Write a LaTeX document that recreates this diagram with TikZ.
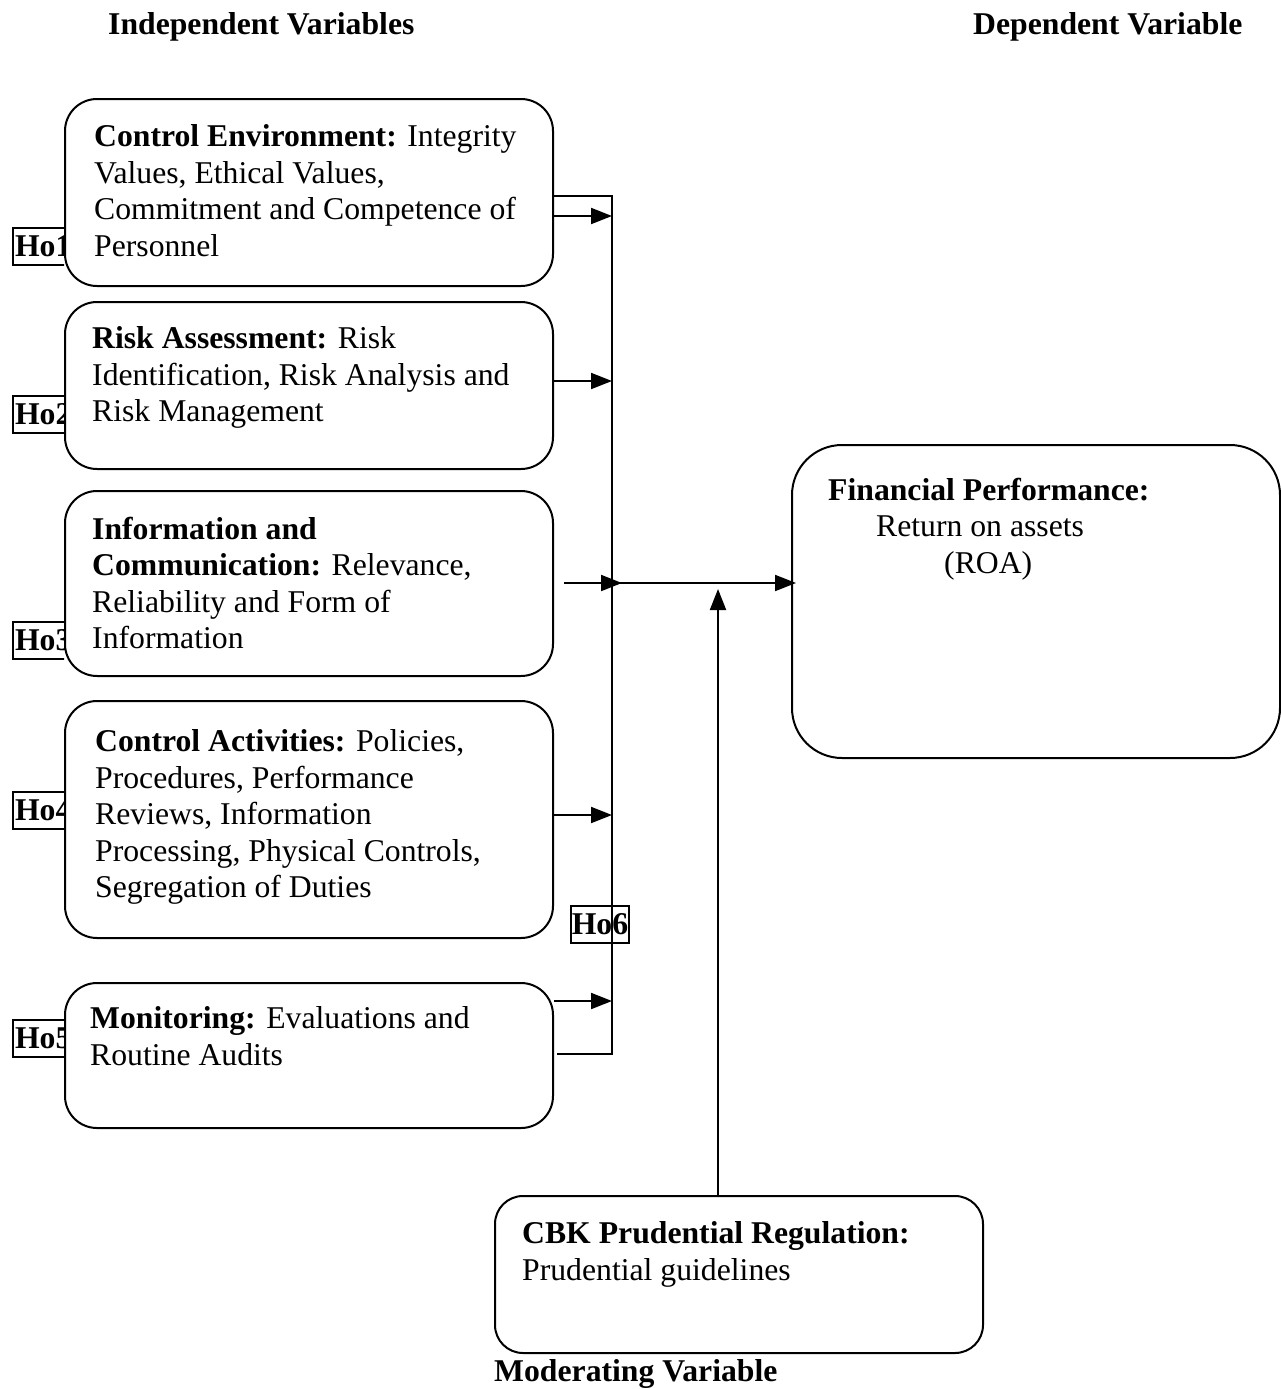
\documentclass[tikz,border=0pt]{standalone}
\usepackage{fontspec}
\setmainfont{Liberation Serif}
\usetikzlibrary{arrows.meta}
\begin{document}
\begin{tikzpicture}[x=1pt,y=-1pt,
  box/.style={draw, line width=2pt, rounded corners=32pt, fill=white, inner sep=0pt, anchor=north west},
  txt/.style={anchor=north west, inner sep=0pt, align=left, font=\fontsize{31.7}{36.5}\selectfont},
  ttl/.style={anchor=base west, inner sep=0pt, font=\fontsize{31.7}{36.5}\selectfont\bfseries},
  holab/.style={draw, line width=2pt, inner xsep=2pt, inner ysep=0pt, minimum height=37pt, font=\fontsize{31.7}{36}\selectfont\bfseries, anchor=west},
  ln/.style={line width=2pt},
  arr/.style={line width=2pt, -{Triangle[length=21pt,width=16pt]}},
]
\useasboundingbox (0,0) rectangle (1281,1389);

% titles
\node[ttl] (tind) at (108,35) {Independent Variables};
\node[ttl] (tdep) at (973,35) {Dependent Variable};
\node[ttl] (tmod) at (494,1381) {Moderating Variable};

% hypothesis labels (clipped by the boxes)
\begin{scope}
\clip (0,0) rectangle (64,1389);
\node[holab] (h1) at (12,246) {Ho1};
\node[holab] (h2) at (12,414) {Ho2};
\node[holab] (h3) at (12,640) {Ho3};
\node[holab] (h4) at (12,810) {Ho4};
\node[holab] (h5) at (12,1038) {Ho5};
\end{scope}

% independent variable boxes
\node[box, minimum width=488pt, minimum height=187pt] (b1) at (64,98) {};
\node[box, minimum width=488pt, minimum height=167pt] (b2) at (64,301) {};
\node[box, minimum width=488pt, minimum height=185pt] (b3) at (64,490) {};
\node[box, minimum width=488pt, minimum height=237pt] (b4) at (64,700) {};
\node[box, minimum width=488pt, minimum height=145pt] (b5) at (64,982) {};

\node[txt] (t1) at (94,124.5) {\textbf{Control Environment:} Integrity\\Values, Ethical Values,\\Commitment and Competence of\\Personnel};
\node[txt] (t2) at (92,326.5) {\textbf{Risk Assessment:} Risk\\Identification, Risk Analysis and\\Risk Management};
\node[txt] (t3) at (92,516.5) {\textbf{Information and}\\\textbf{Communication:} Relevance,\\Reliability and Form of\\Information};
\node[txt] (t4) at (95,729.5) {\textbf{Control Activities:} Policies,\\Procedures, Performance\\Reviews, Information\\Processing, Physical Controls,\\Segregation of Duties};
\node[txt] (t5) at (90,1006.5) {\textbf{Monitoring:} Evaluations and\\Routine Audits};

% dependent variable box
\node[box, rounded corners=50pt, minimum width=488pt, minimum height=313pt] (fp) at (791,444) {};
\node[txt] (tfp) at (828,477.5) {\textbf{Financial Performance:}\\\hspace*{48pt}Return on assets\\\hspace*{116pt}(ROA)};

% moderating variable box
\node[box, rounded corners=28pt, minimum width=488pt, minimum height=157pt] (cbk) at (494,1195) {};
\node[txt] (tcbk) at (522,1221.5) {\textbf{CBK Prudential Regulation:}\\Prudential guidelines};

% Ho6 label
\node[holab, anchor=center, inner xsep=1pt] (h6) at (600,924) {Ho6};

% bus
\coordinate (bt) at (612,196);
\coordinate (bb) at (612,1054);
\draw[ln] (b1.east |- bt) -- (bt) -- (bb) -- ([xshift=3pt]b5.east |- bb);

\draw[arr] (b1.east |- 0,216) -- (bt |- 0,216);
\draw[arr] (b2.east |- 0,381) -- (bt |- 0,381);
\draw[arr] ([xshift=10pt]b3.east |- 0,583) -- ([xshift=10pt]bt |- 0,583);
\draw[arr] (b4.east |- 0,815) -- (bt |- 0,815);
\draw[arr] (b5.east |- 0,1001) -- (bt |- 0,1001);

% main arrow to dependent variable
\draw[arr] (bt |- 0,583) -- ([xshift=5pt]fp.west |- 0,583);

% moderating arrow
\coordinate (mj) at (718,589);
\draw[arr] (cbk.north -| mj) -- (mj);
\end{tikzpicture}
\end{document}
